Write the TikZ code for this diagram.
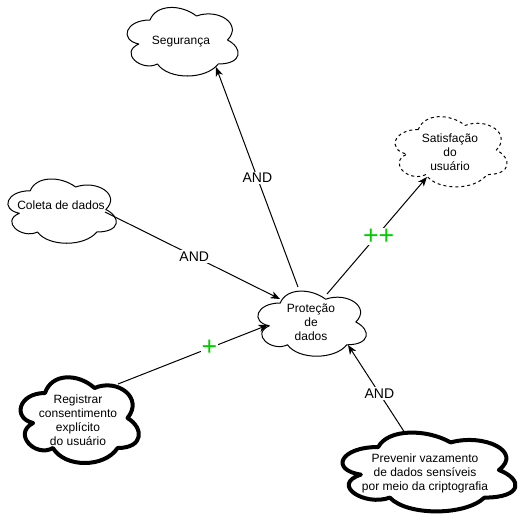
\documentclass[tikz,border=0pt]{standalone}
\usepackage{fontspec}
\setmainfont{Liberation Sans}
\usetikzlibrary{arrows.meta}
\definecolor{plusgreen}{RGB}{0,204,0}
% draw.io style cloud outline inside the box (x,y,w,h), y grows downwards
\newcommand{\drawiocloud}[5][]{%
  \draw[#1] ({#2+0.25*#4},{#3+0.25*#5})
    .. controls ({#2+0.05*#4},{#3+0.25*#5}) and ({#2},{#3+0.5*#5}) .. ({#2+0.16*#4},{#3+0.55*#5})
    .. controls ({#2},{#3+0.66*#5}) and ({#2+0.18*#4},{#3+0.9*#5}) .. ({#2+0.31*#4},{#3+0.8*#5})
    .. controls ({#2+0.4*#4},{#3+#5}) and ({#2+0.7*#4},{#3+#5}) .. ({#2+0.8*#4},{#3+0.8*#5})
    .. controls ({#2+#4},{#3+0.8*#5}) and ({#2+#4},{#3+0.6*#5}) .. ({#2+0.875*#4},{#3+0.5*#5})
    .. controls ({#2+#4},{#3+0.3*#5}) and ({#2+0.8*#4},{#3+0.1*#5}) .. ({#2+0.625*#4},{#3+0.2*#5})
    .. controls ({#2+0.5*#4},{#3+0.05*#5}) and ({#2+0.3*#4},{#3+0.05*#5}) .. cycle;}
\begin{document}
\begin{tikzpicture}[x=0.75pt,y=-0.75pt,
  cloudline/.style={line width=0.75pt, line join=round},
  dashcloud/.style={cloudline, dash pattern=on 2.25pt off 2.25pt},
  thickcloud/.style={line width=3pt, line join=round},
  txt/.style={align=center, inner sep=0pt, font=\fontsize{9}{10.5}\selectfont},
  arr/.style={line width=0.75pt, -{Stealth[length=7pt,width=5.5pt,inset=2pt]}},
  andlbl/.style={fill=white, inner sep=1pt, font=\fontsize{10.5}{12}\selectfont},
  pluslbl/.style={fill=white, inner sep=0.5pt, text=plusgreen, font=\fontsize{20}{20}\selectfont}]
\fill[white] (0,0) rectangle (525,519);
\useasboundingbox (0,0) rectangle (525,519);

% clouds
\drawiocloud[cloudline]{119}{0}{124}{80}
\drawiocloud[dashcloud]{387}{109}{125}{82}
\drawiocloud[cloudline]{0}{172}{121}{75}
\drawiocloud[cloudline]{250}{284}{121}{76}
\drawiocloud[thickcloud]{12}{368}{132}{100}
\drawiocloud[thickcloud]{330}{424}{193}{92}

% texts
\node[txt] (seg) at (181,42) {Segurança};
\node[txt] (sat) at (450,152) {Satisfação\\do\\usuário};
\node[txt] (col) at (61,205) {Coleta de dados};
\node[txt] (prot) at (311,322) {Proteção\\de\\dados};
\node[txt] (reg) at (78,420) {Registrar\\consentimento\\explícito\\do usuário};
\node[txt] (prev) at (425,473) {Prevenir vazamento\\de dados sensíveis\\por meio da criptografia};

% connector ends on the cloud outlines
\coordinate (prot-a) at (298,287);
\coordinate (seg-in) at (216,67);
\coordinate (prot-b) at (327,294);
\coordinate (sat-in) at (427,177);
\coordinate (col-out) at (105,212);
\coordinate (prot-c) at (280,299);
\coordinate (reg-out) at (118,384);
\coordinate (prot-d) at (268,325);
\coordinate (prev-out) at (405,433);
\coordinate (prot-e) at (348,345);

\draw[arr] (prot-a) -- node[andlbl, pos=0.495] {AND} (seg-in);
\draw[arr] (prot-b) -- node[pluslbl, pos=0.49, xshift=2pt] {++} (sat-in);
\draw[arr] (col-out) -- node[andlbl, pos=0.51] {AND} (prot-c);
\draw[arr] (reg-out) -- node[pluslbl, pos=0.61] {+} (prot-d);
\draw[arr] (prev-out) -- node[andlbl, pos=0.45] {AND} (prot-e);
\end{tikzpicture}
\end{document}
